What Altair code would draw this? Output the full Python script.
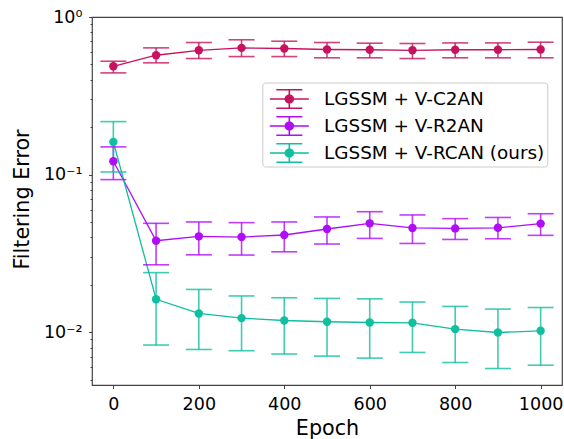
import math
import altair as alt
import pandas as pd

epochs = [0, 100, 200, 300, 400, 500, 600, 700, 800, 900, 1000]
series_names = ["LGSSM + V-C2AN", "LGSSM + V-R2AN", "LGSSM + V-RCAN (ours)"]
series_colors = ["#c7135f", "#b10cf7", "#0fbf9f"]

c2an_mean = [0.487, 0.572, 0.615, 0.637, 0.631, 0.622, 0.620, 0.615, 0.620, 0.620, 0.622]
c2an_low = [0.442, 0.512, 0.545, 0.561, 0.561, 0.551, 0.551, 0.545, 0.551, 0.551, 0.551]
c2an_high = [0.524, 0.637, 0.689, 0.717, 0.702, 0.689, 0.682, 0.679, 0.685, 0.685, 0.692]

r2an_mean = [0.1215, 0.0381, 0.0406, 0.0402, 0.0414, 0.0452, 0.0491, 0.0459, 0.0456, 0.0460, 0.0489]
r2an_low = [0.093, 0.0268, 0.0310, 0.0309, 0.0324, 0.0363, 0.0394, 0.0366, 0.0388, 0.0392, 0.0412]
r2an_high = [0.150, 0.0491, 0.0501, 0.0496, 0.0501, 0.0539, 0.0582, 0.0555, 0.0526, 0.0535, 0.0565]

rcan_mean = [0.161, 0.0162, 0.01316, 0.0123, 0.01188, 0.01166, 0.01154, 0.01148, 0.01047, 0.00997, 0.01022]
rcan_low = [0.104, 0.0083, 0.00778, 0.00764, 0.00728, 0.00706, 0.00686, 0.00745, 0.00643, 0.00589, 0.00618]
rcan_high = [0.217, 0.0239, 0.0187, 0.0170, 0.01656, 0.0164, 0.0163, 0.01555, 0.01459, 0.01403, 0.01436]

x_ticks = [0, 200, 400, 600, 800, 1000]
y_ticks = [0.005, 0.006, 0.007, 0.008, 0.009,
           0.01, 0.02, 0.03, 0.04, 0.05, 0.06, 0.07, 0.08, 0.09,
           0.1, 0.2, 0.3, 0.4, 0.5, 0.6, 0.7, 0.8, 0.9, 1.0]

rows = []
for name, m, lo, hi in zip(series_names,
                           [c2an_mean, r2an_mean, rcan_mean],
                           [c2an_low, r2an_low, rcan_low],
                           [c2an_high, r2an_high, rcan_high]):
    for e, a, b, c in zip(epochs, m, lo, hi):
        rows.append({"epoch": e, "series": name, "mean": a, "low": b, "high": c})
df = pd.DataFrame(rows)

# legend symbol: line + errorbar + caps + marker, drawn as filled shapes
U = 13.5  # px per unit for symbolSize 729
cx = 0.78


def rect(x0, y0, x1, y1):
    return f"M{x0:.3f},{y0:.3f}L{x1:.3f},{y0:.3f}L{x1:.3f},{y1:.3f}L{x0:.3f},{y1:.3f}Z"


def disc(c, r, n=24):
    pts = [(c + r * math.cos(2 * math.pi * k / n), r * math.sin(2 * math.pi * k / n)) for k in range(n)]
    return "M" + "L".join(f"{px:.3f},{py:.3f}" for px, py in pts) + "Z"


hl, ht = 19.5 / U, 0.65 / U
vh, vt = 9.3 / U, 0.8 / U
cw = 13.0 / U
rr = 4.75 / U
sym = (
    rect(cx - hl, -ht, cx + hl, ht)
    + rect(cx - vt, -vh, cx + vt, vh)
    + rect(cx - cw, -vh - vt, cx + cw, -vh + vt)
    + rect(cx - cw, vh - vt, cx + cw, vh + vt)
    + disc(cx, rr)
)

major = "abs(datum.value-1)<1e-9 || abs(datum.value-0.1)<1e-9 || abs(datum.value-0.01)<1e-9"
ylabel = ("abs(datum.value-1)<1e-9 ? '10\u2070' : abs(datum.value-0.1)<1e-9 ? '10\u207b\u00b9' : "
          "abs(datum.value-0.01)<1e-9 ? '10\u207b\u00b2' : ''")

xscale = alt.Scale(domain=[-50, 1050], nice=False, zero=False)
yscale = alt.Scale(type="log", domain=[0.00463, 1], nice=False)
cscale = alt.Scale(domain=series_names, range=series_colors)
# data-driven domain (sorted = same order as series_names) for the unlabelled channels
oscale = alt.Scale(range=series_colors)

x_axis = alt.Axis(values=x_ticks, title="Epoch", format="d", tickSize=3.5, labelFontSize=17.5,
                  labelBaseline="alphabetic", labelPadding=20.8, labelFlush=False,
                  titleFontSize=20.7, titleFontWeight="normal", titleBaseline="alphabetic",
                  titleY=49, grid=False, domain=False)
y_axis = alt.Axis(values=y_ticks, title="Filtering Error", labelExpr=ylabel,
                  tickSize={"condition": {"test": major, "value": 3.5}, "value": 2},
                  labelFontSize=17.5, labelPadding=6.5, labelOverlap=False,
                  titleFontSize=20.7, titleFontWeight="normal", titleBaseline="alphabetic",
                  titleAngle=270, titleAlign="center", titleX=-64, titleY=182,
                  grid=False, domain=False)

X = alt.X("epoch:Q", scale=xscale, axis=x_axis)

base = alt.Chart(df)

lines = base.mark_line(strokeWidth=1.3).encode(
    x=X, y=alt.Y("mean:Q", scale=yscale, axis=y_axis),
    stroke=alt.Stroke("series:N", scale=oscale, legend=None))
bars = base.mark_rule(strokeWidth=1.6, opacity=0.8).encode(
    x=X, y=alt.Y("low:Q", scale=yscale, axis=y_axis), y2="high:Q",
    stroke=alt.Stroke("series:N", scale=oscale, legend=None))
caps_lo = base.mark_tick(orient="horizontal", size=26, thickness=1.6, opacity=0.8).encode(
    x=X, y=alt.Y("low:Q", scale=yscale, axis=y_axis),
    fill=alt.Fill("series:N", scale=oscale, legend=None))
caps_hi = base.mark_tick(orient="horizontal", size=26, thickness=1.6, opacity=0.8).encode(
    x=X, y=alt.Y("high:Q", scale=yscale, axis=y_axis),
    fill=alt.Fill("series:N", scale=oscale, legend=None))
points = base.mark_point(filled=True, size=71, opacity=1).encode(
    x=X, y=alt.Y("mean:Q", scale=yscale, axis=y_axis),
    color=alt.Color("series:N", scale=cscale, legend=alt.Legend(
        title=None, orient="none", legendX=170.3, legendY=65.5,
        symbolType=sym, symbolSize=729, symbolStrokeWidth=0, symbolOpacity=1,
        labelFontSize=18.4, labelOffset=31.7, labelLimit=400, padding=3, rowPadding=3,
        labelExpr="datum.label + '\u00a0'",
        fillColor="white", strokeColor="#cccccc", cornerRadius=3)))

chart = alt.layer(lines, bars, caps_lo, caps_hi, points).properties(
    width=470, height=368,
    autosize=alt.AutoSizeParams(type="none"),
    padding={"left": 92, "top": 17, "right": 2, "bottom": 54},
).configure(
    font="DejaVu Sans"
).configure_view(
    stroke="#444444", strokeWidth=1.2
).configure_axis(
    tickColor="#444444", labelColor="black", titleColor="black",
    labelFont="DejaVu Sans", titleFont="DejaVu Sans"
).configure_legend(labelFont="DejaVu Sans", labelColor="black")

chart.save("out.html", embed_options={"renderer": "svg", "actions": False})
